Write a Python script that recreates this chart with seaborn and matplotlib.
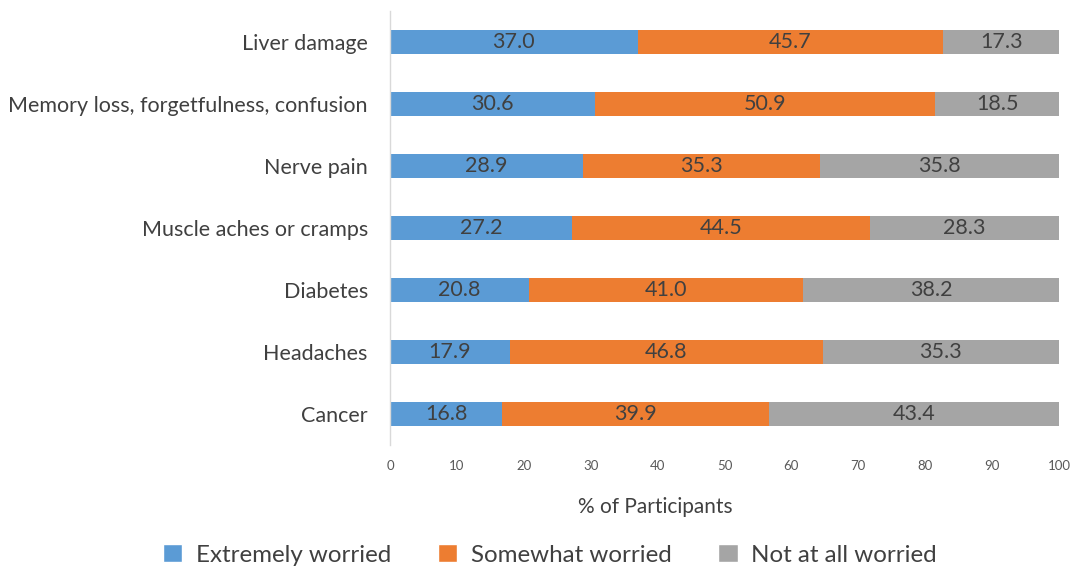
import numpy as np
import pandas as pd
import matplotlib
matplotlib.use('Agg')
import matplotlib.pyplot as plt
import seaborn as sns
from matplotlib.patches import Patch

# data
conditions = ['Liver damage', 'Memory loss, forgetfulness, confusion', 'Nerve pain',
              'Muscle aches or cramps', 'Diabetes', 'Headaches', 'Cancer']
extremely = [37.0, 30.6, 28.9, 27.2, 20.8, 17.9, 16.8]
somewhat = [45.7, 50.9, 35.3, 44.5, 41.0, 46.8, 39.9]
not_at_all = [17.3, 18.5, 35.8, 28.3, 38.2, 35.3, 43.4]
series_names = ['Extremely worried', 'Somewhat worried', 'Not at all worried']
colors = ['#5B9BD5', '#ED7D31', '#A5A5A5']

sns.set_style('white')
plt.rcParams['font.family'] = ['Lato', 'DejaVu Sans']

df = pd.DataFrame({'condition': conditions, 'ext': extremely,
                   'some': somewhat, 'none': not_at_all})
df['c1'] = df['ext']
df['c2'] = df['ext'] + df['some']
df['c3'] = df['c2'] + df['none']

fig = plt.figure(figsize=(10.76, 5.69), dpi=100)
ax = fig.add_axes([0.3625, 0.218, 0.6217, 0.7627])

# stacked bars drawn back to front from cumulative sums
for col, c in zip(['c3', 'c2', 'c1'], colors[::-1]):
    sns.barplot(data=df, x=col, y='condition', orient='h', color=c,
                width=0.4, saturation=1, ax=ax, linewidth=0)

# segment labels
for i, row in df.iterrows():
    starts = [0, row['c1'], row['c2']]
    for s, v in zip(starts, [row['ext'], row['some'], row['none']]):
        ax.text(s + v / 2, i, f'{v:.1f}', ha='center', va='center',
                fontsize=15.5, color='#404040')

ax.set_xlim(0, 100)
ax.set_ylim(6.5, -0.5)
ax.set_xticks(np.arange(0, 101, 10))
ax.tick_params(axis='x', labelsize=9.5, colors='#595959', length=0, pad=11)
ax.tick_params(axis='y', labelsize=15.5, colors='#404040', length=0, pad=16)
ax.set_ylabel('')
ax.set_xlabel('% of Participants', fontsize=15, color='#404040', va='center')
ax.xaxis.set_label_coords(0.396, -0.143)
for sp in ['top', 'right', 'bottom']:
    ax.spines[sp].set_visible(False)
ax.spines['left'].set_color('#D9D9D9')
ax.spines['left'].set_linewidth(1)

handles = [Patch(facecolor=c, label=n) for c, n in zip(colors, series_names)]
leg = fig.legend(handles=handles, loc='center', ncol=3, frameon=False,
                 bbox_to_anchor=(0.511, 0.025), fontsize=17.4, handlelength=0.8,
                 handleheight=0.8, columnspacing=1.95, handletextpad=0.55,
                 borderpad=0)
for t in leg.get_texts():
    t.set_color('#404040')

fig.savefig('out.png', dpi=100)
